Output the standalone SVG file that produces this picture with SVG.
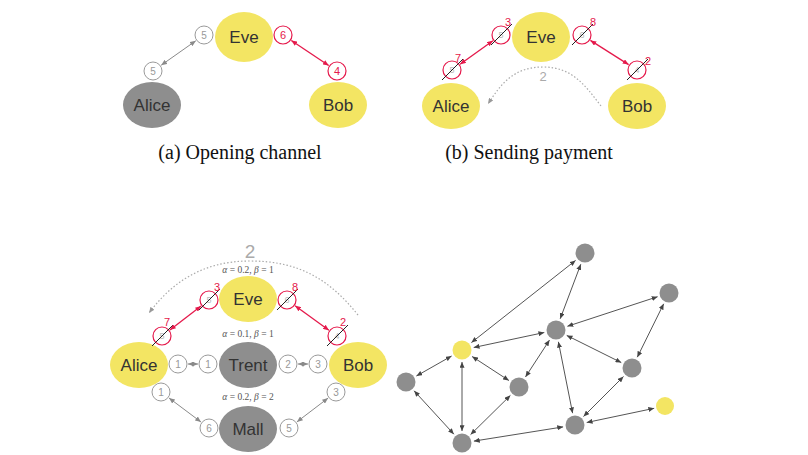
<svg xmlns="http://www.w3.org/2000/svg" width="808" height="455" viewBox="0 0 808 455">
<defs>
<marker id="mg" viewBox="0 0 7 6" refX="7" refY="3" markerWidth="6" markerHeight="5" markerUnits="userSpaceOnUse" orient="auto-start-reverse"><path d="M0,0 L7,3 L0,6 z" fill="#8a8a8a"/></marker>
<marker id="mr" viewBox="0 0 7 6" refX="7" refY="3" markerWidth="6" markerHeight="5" markerUnits="userSpaceOnUse" orient="auto-start-reverse"><path d="M0,0 L7,3 L0,6 z" fill="#e5194b"/></marker>
<marker id="md" viewBox="0 0 7 6" refX="7" refY="3" markerWidth="6" markerHeight="5" markerUnits="userSpaceOnUse" orient="auto-start-reverse"><path d="M0,0 L7,3 L0,6 z" fill="#444"/></marker>
<marker id="ml" viewBox="0 0 7 6" refX="7" refY="3" markerWidth="6" markerHeight="5" markerUnits="userSpaceOnUse" orient="auto-start-reverse"><path d="M0,0 L7,3 L0,6 z" fill="#999"/></marker>
</defs>
<style>
.y{fill:#f3e563}
.g{fill:#8e8e8e}
.lbl{font-family:"Liberation Sans",Arial,sans-serif;font-size:17px;fill:#333;text-anchor:middle;dominant-baseline:central}
.sc{fill:#fff;stroke:#9a9a9a;stroke-width:1}
.rc{fill:none;stroke:#e5194b;stroke-width:1.2}
.st{font-family:"Liberation Sans",Arial,sans-serif;font-size:10px;fill:#999;text-anchor:middle;dominant-baseline:central}
.rt{font-family:"Liberation Sans",Arial,sans-serif;font-size:11px;fill:#e5194b;text-anchor:middle;dominant-baseline:central}
.ft{font-family:"Liberation Sans",Arial,sans-serif;font-size:9px;fill:#bbb;text-anchor:middle;dominant-baseline:central}
.sl{stroke:#222;stroke-width:1}
.ga{stroke:#8a8a8a;stroke-width:1;fill:none;marker-start:url(#mg);marker-end:url(#mg)}
.ra{stroke:#e5194b;stroke-width:1.3;fill:none;marker-start:url(#mr);marker-end:url(#mr)}
.da{stroke:#555;stroke-width:1;fill:none;marker-start:url(#md);marker-end:url(#md)}
.dot{stroke:#aaa;stroke-width:1.2;stroke-dasharray:1.5 2;fill:none;marker-end:url(#ml)}
.cap{font-family:"Liberation Serif","Times New Roman",serif;font-size:20px;fill:#111;text-anchor:middle}
.gr{font-family:"Liberation Serif","Times New Roman",serif;font-size:9.5px;fill:#555;text-anchor:middle}
.gr tspan{font-style:italic}
.big{font-family:"Liberation Sans",Arial,sans-serif;font-size:19px;fill:#aaa;text-anchor:middle}
.nd{fill:#8e8e8e}
</style>

<!-- Panel (a) -->
<g id="a-eve"><ellipse class="y" cx="244" cy="37" rx="29" ry="25"/><text class="lbl" x="244" y="37">Eve</text></g>
<g id="a-alice"><ellipse class="g" cx="152" cy="105" rx="29" ry="23"/><text class="lbl" x="152" y="105">Alice</text></g>
<g id="a-bob"><ellipse class="y" cx="338" cy="105" rx="29" ry="23"/><text class="lbl" x="338" y="105">Bob</text></g>
<g id="a-ports">
<circle class="sc" cx="153" cy="71" r="9"/><text class="st" x="153" y="71">5</text>
<circle class="sc" cx="204" cy="35" r="9"/><text class="st" x="204" y="35">5</text>
<circle class="rc" cx="283" cy="35" r="9"/><text class="rt" x="283" y="35">6</text>
<circle class="rc" cx="337" cy="71" r="9"/><text class="rt" x="337" y="71">4</text>
</g>
<g id="a-connectors">
<line class="ga" x1="161.2" y1="65.2" x2="195.8" y2="40.8"/>
<line class="ra" x1="291.3" y1="40.5" x2="328.7" y2="65.5"/>
</g>
<text class="cap" x="240" y="159">(a) Opening channel</text>

<!-- Panel (b) -->
<g id="b-eve"><ellipse class="y" cx="541" cy="37" rx="29" ry="25"/><text class="lbl" x="541" y="37">Eve</text></g>
<g id="b-alice"><ellipse class="y" cx="451" cy="106" rx="29" ry="23"/><text class="lbl" x="451" y="106">Alice</text></g>
<g id="b-bob"><ellipse class="y" cx="637" cy="106" rx="29" ry="23"/><text class="lbl" x="637" y="106">Bob</text></g>
<g id="b-ports">
<circle class="rc" cx="452" cy="70" r="9"/><text class="ft" x="452" y="70">5</text><line class="sl" x1="442" y1="80" x2="463" y2="59"/><text class="rt" x="458" y="58">7</text>
<circle class="rc" cx="501" cy="35" r="9"/><text class="ft" x="501" y="35">5</text><line class="sl" x1="491" y1="45" x2="512" y2="24"/><text class="rt" x="508" y="22">3</text>
<circle class="rc" cx="582" cy="35" r="9"/><text class="ft" x="582" y="35">6</text><line class="sl" x1="572" y1="45" x2="593" y2="24"/><text class="rt" x="593" y="22">8</text>
<circle class="rc" cx="637" cy="70" r="9"/><text class="ft" x="637" y="70">4</text><line class="sl" x1="627" y1="80" x2="648" y2="59"/><text class="rt" x="648" y="61">2</text>
</g>
<g id="b-connectors">
<line class="ra" x1="460.1" y1="64.2" x2="492.9" y2="40.8"/>
<line class="ra" x1="590.4" y1="40.4" x2="628.6" y2="64.6"/>
<path class="dot" d="M601,106 C585,85 572,67 543,67 C515,67 502,82 488,104"/>
<text class="big" x="543" y="81" style="font-size:13px">2</text>
</g>
<text class="cap" x="529" y="159">(b) Sending payment</text>

<!-- Panel (c) -->
<g id="c-eve"><ellipse class="y" cx="248" cy="299" rx="29" ry="23"/><text class="lbl" x="248" y="299">Eve</text></g>
<g id="c-alice"><ellipse class="y" cx="139" cy="365" rx="29" ry="23"/><text class="lbl" x="139" y="365">Alice</text></g>
<g id="c-trent"><ellipse class="g" cx="248" cy="365" rx="29" ry="23"/><text class="lbl" x="248" y="365">Trent</text></g>
<g id="c-bob"><ellipse class="y" cx="358" cy="365" rx="29" ry="23"/><text class="lbl" x="358" y="365">Bob</text></g>
<g id="c-mall"><ellipse class="g" cx="248" cy="429" rx="29" ry="23"/><text class="lbl" x="248" y="429">Mall</text></g>
<g id="c-ports">
<circle class="rc" cx="162" cy="336" r="9"/><text class="ft" x="162" y="336">5</text><line class="sl" x1="152" y1="346" x2="173" y2="325"/><text class="rt" x="167" y="322">7</text>
<circle class="rc" cx="209" cy="300" r="9"/><text class="ft" x="209" y="300">5</text><line class="sl" x1="199" y1="310" x2="220" y2="289"/><text class="rt" x="217" y="287">3</text>
<circle class="rc" cx="287" cy="300" r="9"/><text class="ft" x="287" y="300">6</text><line class="sl" x1="277" y1="310" x2="298" y2="289"/><text class="rt" x="295" y="287">8</text>
<circle class="rc" cx="337" cy="336" r="9"/><text class="ft" x="337" y="336">4</text><line class="sl" x1="327" y1="346" x2="348" y2="325"/><text class="rt" x="343" y="322">2</text>
<circle class="sc" cx="178" cy="364" r="9"/><text class="st" x="178" y="364">1</text>
<circle class="sc" cx="208" cy="364" r="9"/><text class="st" x="208" y="364">1</text>
<circle class="sc" cx="288" cy="364" r="9"/><text class="st" x="288" y="364">2</text>
<circle class="sc" cx="318" cy="364" r="9"/><text class="st" x="318" y="364">3</text>
<circle class="sc" cx="161" cy="392" r="9"/><text class="st" x="161" y="392">1</text>
<circle class="sc" cx="209" cy="428" r="9"/><text class="st" x="209" y="428">6</text>
<circle class="sc" cx="336" cy="392" r="9"/><text class="st" x="336" y="392">3</text>
<circle class="sc" cx="289" cy="428" r="9"/><text class="st" x="289" y="428">5</text>
</g>
<g id="c-connectors">
<line class="ra" x1="169.9" y1="329.9" x2="201.1" y2="306.1"/>
<line class="ra" x1="295.1" y1="305.8" x2="328.9" y2="330.2"/>
<line class="ga" x1="188" y1="364" x2="198" y2="364"/>
<line class="ga" x1="298" y1="364" x2="308" y2="364"/>
<line class="ga" x1="169" y1="398" x2="201" y2="422"/>
<line class="ga" x1="328.1" y1="398.1" x2="296.9" y2="421.9"/>
<path class="dot" d="M358,315 C330,280 300,261 250,261 C200,261 170,285 149,313"/>
</g>
<text class="big" x="250" y="258">2</text>
<text class="gr" x="248" y="273"><tspan>α</tspan> = 0.2, <tspan>β</tspan> = 1</text>
<text class="gr" x="248" y="337"><tspan>α</tspan> = 0.1, <tspan>β</tspan> = 1</text>
<text class="gr" x="248" y="400"><tspan>α</tspan> = 0.2, <tspan>β</tspan> = 2</text>

<!-- Panel (d) -->
<g id="d-connectors">
<line class="da" x1="471.4" y1="342.6" x2="575.6" y2="260.4"/>
<line class="da" x1="580.8" y1="264.2" x2="560.2" y2="318.8"/>
<line class="da" x1="567.4" y1="326.3" x2="657.6" y2="296.7"/>
<line class="da" x1="663.7" y1="303.8" x2="637.3" y2="357.2"/>
<line class="da" x1="473.7" y1="347.5" x2="544.3" y2="332.5"/>
<line class="da" x1="549.5" y1="340.1" x2="525.5" y2="376.9"/>
<line class="da" x1="558.4" y1="341.8" x2="572.6" y2="413.2"/>
<line class="da" x1="566.7" y1="335.4" x2="621.3" y2="362.6"/>
<line class="da" x1="451.6" y1="356.0" x2="416.4" y2="376.0"/>
<line class="da" x1="472.1" y1="356.5" x2="508.9" y2="380.5"/>
<line class="da" x1="462" y1="362" x2="462" y2="431"/>
<line class="da" x1="414.1" y1="390.8" x2="453.9" y2="434.2"/>
<line class="da" x1="510.4" y1="395.4" x2="470.6" y2="434.6"/>
<line class="da" x1="473.9" y1="441.1" x2="563.1" y2="426.9"/>
<line class="da" x1="583.5" y1="416.5" x2="623.5" y2="376.5"/>
<line class="da" x1="586.7" y1="422.5" x2="654.2" y2="408.3"/>
</g>
<g id="d-n1"><circle class="nd" cx="585" cy="253" r="9.5"/></g>
<g id="d-n2"><circle class="nd" cx="669" cy="293" r="9.5"/></g>
<g id="d-n3"><circle class="nd" cx="556" cy="330" r="9.5"/></g>
<g id="d-n4"><circle class="y" cx="462" cy="350" r="9.5"/></g>
<g id="d-n5"><circle class="nd" cx="406" cy="382" r="9.5"/></g>
<g id="d-n6"><circle class="nd" cx="519" cy="387" r="9.5"/></g>
<g id="d-n7"><circle class="nd" cx="632" cy="368" r="9.5"/></g>
<g id="d-n8"><circle class="y" cx="665" cy="406" r="9"/></g>
<g id="d-n9"><circle class="nd" cx="575" cy="425" r="9.5"/></g>
<g id="d-n10"><circle class="nd" cx="462" cy="443" r="9.5"/></g>
</svg>
